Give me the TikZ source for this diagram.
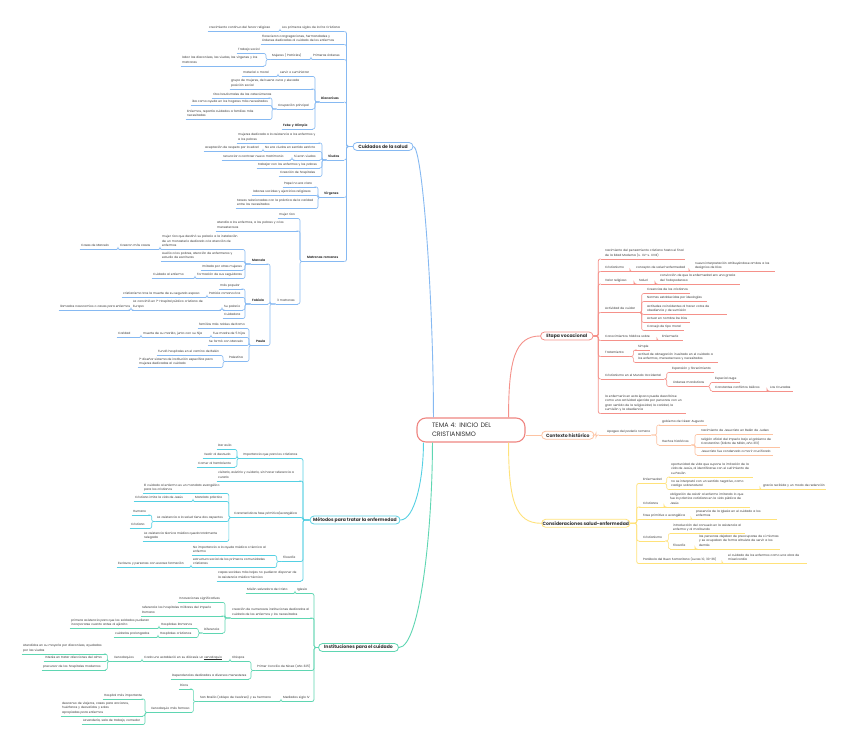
\documentclass[tikz,border=0pt]{standalone}
\usepackage{fontspec}
\setmainfont{Poppins}
\usetikzlibrary{calc}
\definecolor{txt}{HTML}{333333}
\definecolor{cB}{HTML}{86B9F2}
\definecolor{cC}{HTML}{55D0E3}
\definecolor{cG}{HTML}{5FD6B2}
\definecolor{cR}{HTML}{F5918A}
\definecolor{cO}{HTML}{FDC3A2}
\definecolor{cY}{HTML}{FFE27A}
\definecolor{cT}{HTML}{EF8682}
\newcommand\ulx[1]{\setbox0\hbox{#1}\rlap{\rule[-0.55pt]{\wd0}{0.22pt}}#1}
\tikzset{
  leaf/.style={inner xsep=0pt, inner ysep=1.2pt, text=txt, font=\fontsize{3}{4.4}\selectfont},
  bf/.style={font=\fontsize{3.1}{4.4}\selectfont\bfseries},
  ul/.style={draw=\brc, line width=0.6pt},
  cn/.style={draw=\brc, line width=0.6pt, rounded corners=2pt},
  mainnode/.style={draw=#1, fill=white, line width=0.8pt, rounded corners=4pt, minimum height=8pt,
    inner sep=0pt, text=txt, font=\fontsize{4.6}{5.5}\selectfont\bfseries},
  tline/.style={draw=#1, line width=0.9pt}
}
\newcommand\ndl[6][]{%
  \pgfmathsetmacro\ndw{#4-#3+1.5}%
  \node[leaf,#1,text width=\ndw pt,anchor=south west] (#2) at ({#3-1.5},#5)
    {\hspace*{1.5pt}\begin{tabular}[b]{@{}l@{}}#6\end{tabular}};
  \draw[ul] (#2.south west) -- (#2.south east);}
\newcommand\ndr[7][]{%
  \pgfmathsetmacro\ndw{#5-#3}\pgfmathsetmacro\ndi{#4-#3}%
  \node[leaf,#1,text width=\ndw pt,anchor=south west] (#2) at (#3,#6)
    {\hspace*{\ndi pt}\begin{tabular}[b]{@{}l@{}}#7\end{tabular}};
  \draw[ul] (#2.south west) -- (#2.south east);}
\newcommand\conL[3]{\draw[cn] let \p1=(#1.south west) in (\p1) -- (#3pt,\y1) |- (#2.south east);}
\newcommand\conR[3]{\draw[cn] let \p1=(#1.south east) in (\p1) -- (#3pt,\y1) |- (#2.south west);}
\newcommand\conLm[3]{\draw[cn,line width=0.75pt] let \p1=(#1.west) in (\p1) -- (#3pt,\y1) |- (#2.south east);}
\newcommand\conRm[3]{\draw[cn,line width=0.75pt] let \p1=(#1.east) in (\p1) -- (#3pt,\y1) |- (#2.south west);}
\begin{document}
\begin{tikzpicture}[x=1pt,y=-1pt]
\useasboundingbox (0,0) rectangle (848,751);
\fill[white] (0,0) rectangle (848,751);

% ---------- central and main nodes
\node[draw=cT, fill=white, line width=1.1pt, rounded corners=9pt, minimum width=108pt, minimum height=24pt,
  text width=78pt, inner xsep=15pt, align=left, text=txt, font=\fontsize{6.4}{9}\selectfont]
  (T) at (471,430) {TEMA 4: INICIO DEL\\CRISTIANISMO};
\node[mainnode=cB, minimum width=60pt] (C) at (383,146.5) {Cuidados de la salud};
\node[mainnode=cC, minimum width=90pt] (M) at (355,520) {Métodos para tratar la enfermedad};
\node[mainnode=cG, minimum width=80pt] (I) at (358.5,647.5) {Instituciones para el cuidado};
\node[mainnode=cR, minimum width=52.5pt] (E) at (566.8,336) {Etapa vocacional};
\node[mainnode=cO, minimum width=52.3pt] (K) at (567.8,435.2) {Contexto histórico};
\node[mainnode=cY, minimum width=88.3pt] (S) at (585.8,523.3) {Consideraciones salud-enfermedad};

\draw[tline=cB] (C.east) .. controls +(9,0) and +(0,-118) .. ([xshift=17pt]T.north west);
\draw[tline=cC] (M.east) .. controls +(14,0) and +(0,38) .. ([xshift=7pt]T.south west);
\draw[tline=cG] (I.east) .. controls +(21,0) and +(0,88) .. ([xshift=16pt]T.south west);
\draw[tline=cR] ([xshift=-17pt]T.north east) .. controls +(0,-58) and +(-25,0) .. (E.west);
\draw[tline=cO] (T.east |- K.west) -- (K.west);
\draw[tline=cY] ([xshift=-17pt]T.south east) .. controls +(0,58) and +(-26,0) .. (S.west);

% ---------- Cuidados de la salud
\def\brc{cB}
\ndl{c1}{282}{344}{31.5}{Los primeros siglos de la Era Cristiana}
\ndl{c1a}{209}{279}{31.5}{crecimiento continuo del fervor religioso}
\ndl{c2}{262}{344}{44.5}{Florecieron congregaciones, hermandades y\\órdenes dedicadas al cuidado de los enfermos}
\ndl{c3}{313}{344}{59.5}{Primeras órdenes}
\ndl{c3a}{272}{310}{59.5}{Mujeres ( Patricias)}
\ndl{c3a1}{238}{264}{53.5}{Trabajo social}
\ndl{c3a2}{182}{264}{66}{labor las diaconisas, las viudas, las vírgenes y las\\matronas}
\ndl[bf]{c4}{321}{344}{102}{Diaconisas}
\ndl{c4a}{280}{313}{76.5}{servir o suministrar}
\ndl{c4a1}{243}{277}{76.5}{material o moral}
\ndl{c4b}{231}{313}{89}{grupo de mujeres, de buena cuna y elevada\\posición social}
\ndl{c4c}{278}{313}{109}{Ocupación principal}
\ndl{c4c1}{213}{270}{98}{ritos bautismales de las catecúmenas}
\ndl{c4c2}{192}{270}{105.5}{iba como ayuda en los hogares más necesitados}
\ndl{c4c3}{187}{270}{119.5}{Enfermos, repartía cuidados a familias más\\necesitadas}
\ndl[bf]{c4d}{283}{313}{129}{Febe y Olimpia}
\ndl[bf]{c5}{328}{344}{160}{Viudas}
\ndl{c5a}{238}{320}{143}{mujeres dedicada a la asistencia a los enfermos y\\a los pobres}
\ndl{c5b}{265}{320}{151.5}{No era viudas en sentido estricto}
\ndl{c5b1}{205}{262}{151.5}{aceptación de respeto por la edad}
\ndl{c5c}{294}{320}{160}{Si eran viudas}
\ndl{c5c1}{223}{291}{160}{renunciar a contraer nuevo matrimonio}
\ndl{c5d}{258}{320}{168}{trabajar con los enfermos y los pobres}
\ndl{c5e}{280}{320}{176.5}{Creación de hospitales}
\ndl[bf]{c6}{324}{344}{197.5}{Vírgenes}
\ndl{c6a}{284}{316}{187}{Papel no era claro}
\ndl{c6b}{253}{316}{195.5}{labores sociales y ejercicios religiosos}
\ndl{c6c}{237}{316}{208.5}{tareas relacionadas con la práctica de la caridad\\entre los necesitados}
\ndl[bf]{c7}{307}{344}{261.5}{Matronas romanas}
\ndl{c7a}{279}{298}{218.5}{mujer rica}
\ndl{c7b}{217}{298}{231}{atendía a los enfermos, a los pobres y a los\\menesterosos}
\ndl{c7c}{277}{298}{304}{3 matronas}
\ndl[bf]{ma}{252}{268}{264}{Marcela}
\ndl{ma1}{162}{243}{249.5}{mujer rica que destinó su palacio a la instalación\\de un monasterio dedicado a la atención de\\enfermos}
\ndl{ma1a}{120}{159}{249.5}{Crearon más casas}
\ndl{ma1b}{81}{117}{249.5}{Casas de Marcela}
\ndl{ma2}{162}{243}{261.5}{Auxilio a los pobres, atención de enfermeros y\\estudio de escrituras}
\ndl{ma3}{202}{243}{270}{Imitada por otras mujeres}
\ndl{ma4}{197}{243}{278.5}{Formación de sus seguidoras}
\ndl{ma4a}{153}{194}{278.5}{Cuidado al enfermo}
\ndl[bf]{fa}{252}{268}{304}{Fabiola}
\ndl{fa1}{220}{243}{289}{más popular}
\ndl{fa2}{209}{243}{297.5}{Patricia romana rica}
\ndl{fa2a}{123}{206}{297.5}{cristianismo tras la muerte de su segundo esposo}
\ndl{fa3}{224}{243}{310}{Su palacio}
\ndl{fa3a}{133}{221}{310}{La convirtió en 1º Hospital público cristiano de\\Europa}
\ndl{fa3b}{60}{130}{310}{llamados nosocomios o casas para enfermos}
\ndl{fa4}{224}{243}{318.5}{Cuidadora}
\ndl[bf]{pa}{256}{268}{345.5}{Paula}
\ndl{pa1}{199}{247}{328.5}{familias más nobles de Roma}
\ndl{pa2}{213}{247}{337.5}{Fue madre de 5 hijos}
\ndl{pa2a}{143}{210}{337.5}{muerte de su marido, junto con su hija}
\ndl{pa2b}{118}{140}{337.5}{Caridad}
\ndl{pa3}{209}{247}{345.5}{Se formó con Marcela}
\ndl{pa4}{229}{247}{361.5}{Palestina}
\ndl{pa4a}{158}{221}{355.5}{Fundó hospitales en el camino de Belén}
\ndl{pa4b}{139}{221}{367.5}{1º diseñar sistema de institución específica para\\mujeres dedicadas al cuidado}

\conLm{C}{c1}{346.5}\conLm{C}{c2}{346.5}\conLm{C}{c3}{346.5}\conLm{C}{c4}{346.5}
\conLm{C}{c5}{346.5}\conLm{C}{c6}{346.5}\conLm{C}{c7}{346.5}
\conL{c1}{c1a}{280}
\conL{c3}{c3a}{311}
\conL{c3a}{c3a1}{266}\conL{c3a}{c3a2}{266}
\conL{c4}{c4a}{315}\conL{c4}{c4b}{315}\conL{c4}{c4c}{315}\conL{c4}{c4d}{315}
\conL{c4a}{c4a1}{278}
\conL{c4c}{c4c1}{272}\conL{c4c}{c4c2}{272}\conL{c4c}{c4c3}{272}
\conL{c5}{c5a}{322}\conL{c5}{c5b}{322}\conL{c5}{c5c}{322}\conL{c5}{c5d}{322}\conL{c5}{c5e}{322}
\conL{c5b}{c5b1}{263}\conL{c5c}{c5c1}{292}
\conL{c6}{c6a}{318}\conL{c6}{c6b}{318}\conL{c6}{c6c}{318}
\conL{c7}{c7a}{300}\conL{c7}{c7b}{300}\conL{c7}{c7c}{300}
\conL{c7c}{ma}{270}\conL{c7c}{fa}{270}\conL{c7c}{pa}{270}
\conL{ma}{ma1}{245}\conL{ma}{ma2}{245}\conL{ma}{ma3}{245}\conL{ma}{ma4}{245}
\conL{ma1}{ma1a}{160}\conL{ma1a}{ma1b}{118}
\conL{ma4}{ma4a}{195}
\conL{fa}{fa1}{245}\conL{fa}{fa2}{245}\conL{fa}{fa3}{245}\conL{fa}{fa4}{245}
\conL{fa2}{fa2a}{207}\conL{fa3}{fa3a}{222}\conL{fa3a}{fa3b}{131}
\conL{pa}{pa1}{249}\conL{pa}{pa2}{249}\conL{pa}{pa3}{249}\conL{pa}{pa4}{249}
\conL{pa2}{pa2a}{211}\conL{pa2a}{pa2b}{141}
\conL{pa4}{pa4a}{223}\conL{pa4}{pa4b}{223}

% ---------- Métodos para tratar la enfermedad
\def\brc{cC}
\ndl{m1}{243}{301}{458.5}{Importancia que para los cristianos}
\ndl{m1a}{218}{235}{449.5}{Dar asilo}
\ndl{m1b}{204}{235}{458.5}{Vestir al desnudo}
\ndl{m1c}{198}{235}{467}{Comer al hambriento}
\ndl{m2}{218}{301}{481}{visitarlo, asistirlo y cuidarlo, sin hacer referencia a\\curarlo}
\ndl{m3}{234}{301}{517.5}{Características fase primitiva/evangélica}
\ndl{m3a}{144}{227}{493.5}{El cuidado al enfermo es un mandato evangélico\\para los cristianos}
\ndl{m3b}{195}{227}{501.5}{Mandato práctico}
\ndl{m3b1}{135}{192}{501.5}{Cristiano imita la vida de Jesús}
\ndl{m3c}{157}{227}{521.5}{La asistencia a la salud tiene dos aspectos}
\ndl{m3c1}{133}{150}{515}{Humano}
\ndl{m3c2}{131}{150}{528.5}{Cristiano}
\ndl{m3d}{144}{227}{541.5}{La asistencia técnica médica queda totalmente\\relegada}
\ndl{m4}{283}{301}{561.5}{Filosofía}
\ndl{m4a}{193}{275}{555.5}{No importancia a la ayuda médica o técnica al\\enfermo}
\ndl{m4b}{193}{275}{567.5}{estructura social de los primeros comunidades\\cristianas}
\ndl{m4b1}{118}{190}{567.5}{Esclavos y personas con escasa formación}
\ndl{m5}{218}{301}{581}{capas sociales más bajas no pudieron disponer de\\la asistencia médico-técnica}

\conLm{M}{m1}{303}\conLm{M}{m2}{303}\conLm{M}{m3}{303}\conLm{M}{m4}{303}\conLm{M}{m5}{303}
\conL{m1}{m1a}{237}\conL{m1}{m1b}{237}\conL{m1}{m1c}{237}
\conL{m3}{m3a}{228.8}\conL{m3}{m3b}{228.8}\conL{m3}{m3c}{228.8}\conL{m3}{m3d}{228.8}
\conL{m3b}{m3b1}{193}
\conL{m3c}{m3c1}{151.7}\conL{m3c}{m3c2}{151.7}
\conL{m4}{m4a}{276.7}\conL{m4}{m4b}{276.7}
\conL{m4b}{m4b1}{191}

% ---------- Instituciones para el cuidado
\def\brc{cG}
\ndl{i1}{297}{312}{593.5}{Iglesia}
\ndl{i1a}{247}{294}{593.5}{Misión salvadora de Cristo}
\ndl{i2}{232}{312}{618}{creación de numerosas instituciones dedicadas al\\cuidado de los enfermos y los necesitados}
\ndl{i2a}{179}{223}{602.5}{Innovaciones significativas}
\ndl{i2b}{142}{223}{616}{referencia los hospitales militares del Imperio\\Romano}
\ndl{i2c}{204}{223}{633}{Diferencia}
\ndl{i2c1}{161}{196.5}{628.5}{Hospitales Romanos}
\ndl{i2c1a}{71}{158}{628.5}{primera asistencia para que los soldados pudieran\\incorporarse cuanto antes al ejército}
\ndl{i2c2}{160}{196.5}{637.5}{Hospitales cristianos}
\ndl{i2c2a}{115}{157}{637.5}{cuidados prolongados}
\ndl{i3}{257}{312}{670.5}{Primer Concilio de Nicea (año 325)}
\ndl{i3a}{232}{249}{661.5}{Obispos}
\ndl{i3a1}{144}{229}{661.5}{Cada uno estableció en su diócesis un \ulx{xenodoquio}}
\ndl{i3a2}{114}{141}{661.5}{Xenodoquios}
\ndl{i3a2a}{23}{105.5}{654}{Atendidos en su mayoría por diaconisas, ayudadas\\por las viudas}
\ndl{i3a2b}{45}{105.5}{661.5}{Interés en tratar afecciones del alma}
\ndl{i3a2c}{43}{105.5}{670}{precursor de los hospitales modernos}
\ndl{i3b}{172}{249}{679}{Dependencias dedicadas a diversos menesteres}
\ndl{i4}{283}{312}{701.5}{Mediados siglo IV}
\ndl{i4a}{200}{280}{701.5}{San Basilio (obispo de Cesárea) y su hermano}
\ndl{i4a1}{180}{191.5}{689}{Ricos}
\ndl{i4a2}{151}{191.5}{712.5}{Xenodoquio más famoso}
\ndl{i4a2a}{104}{143}{699}{Hospital más importante}
\ndl{i4a2b}{62}{143}{716}{descanso de viajeros, casas para ancianos,\\huérfanos y desvalidos y salas\\apropiadas para enfermos}
\ndl{i4a2c}{83}{143}{724.5}{Lavandería, sala de trabajo, comedor}

\conLm{I}{i1}{314}\conLm{I}{i2}{314}\conLm{I}{i3}{314}\conLm{I}{i4}{314}
\conL{i1}{i1a}{295}
\conL{i2}{i2a}{225}\conL{i2}{i2b}{225}\conL{i2}{i2c}{225}
\conL{i2c}{i2c1}{198.3}\conL{i2c}{i2c2}{198.3}
\conL{i2c1}{i2c1a}{159}\conL{i2c2}{i2c2a}{158}
\conL{i3}{i3a}{251}\conL{i3}{i3b}{251}
\conL{i3a}{i3a1}{230}\conL{i3a1}{i3a2}{142}
\conL{i3a2}{i3a2a}{107.3}\conL{i3a2}{i3a2b}{107.3}\conL{i3a2}{i3a2c}{107.3}
\conL{i4}{i4a}{281}
\conL{i4a}{i4a1}{193.3}\conL{i4a}{i4a2}{193.3}
\conL{i4a2}{i4a2a}{145}\conL{i4a2}{i4a2b}{145}\conL{i4a2}{i4a2c}{145}

% ---------- Etapa vocacional
\def\brc{cR}
\ndr{e1}{600.5}{605}{685}{259}{nacimiento del pensamiento cristiano hasta el final\\de la Edad Moderna (s. XV-s. XVIII)}
\ndr{e2}{600.5}{605}{630}{271.5}{Cristianismo}
\ndr{e2a}{630}{636}{689}{271.5}{concepto de salud-enfermedad}
\ndr{e2b}{689}{695}{775}{271.5}{nueva interpretación atribuyéndose ambos a los\\designios de Dios}
\ndr{e3}{600.5}{605}{634}{284}{Valor religioso}
\ndr{e3a}{634}{639}{655}{284}{Salud}
\ndr{e3b}{655}{660}{740}{284}{convicción de que la enfermedad era una gracia\\del Todopoderoso}
\ndr{e4}{600.5}{605}{638}{312.5}{Actividad de cuidar}
\ndr{e4a}{644}{647}{690}{293.5}{Creencias de los cristianos}
\ndr{e4b}{644}{647}{707}{301.5}{Normas establecidas por ideologías}
\ndr{e4c}{644}{647}{727}{314.5}{actitudes coincidentes al hacer votos de\\obediencia y de sumisión}
\ndr{e4d}{644}{647}{690}{322.5}{Actuar en nombre De Dios}
\ndr{e4e}{644}{647}{684}{330.5}{Consejo de tipo moral}
\ndr{e5}{600.5}{605}{657}{340.5}{Conocimientos hábitos sobre}
\ndr{e5a}{657}{662}{683}{340.5}{Enfermería}
\ndr{e6}{600.5}{605}{629}{356.5}{Tratamiento}
\ndr{e6a}{635}{638}{650}{350}{Simple}
\ndr{e6b}{635}{638}{718}{362.5}{actitud de abnegación inusitado en el cuidado a\\los enfermos, menesterosos y necesitados}
\ndr{e7}{600.5}{605}{664}{379}{Cristianismo en el Mundo Occidental}
\ndr{e7a}{668.5}{672}{714}{372.5}{Expansión y florecimiento}
\ndr{e7b}{668.5}{673}{707}{386.5}{órdenes monásticas}
\ndr{e7b1}{712}{715}{740}{382.5}{Especial auge}
\ndr{e7b2}{712}{715}{767}{391}{Constantes conflictos bélicos}
\ndr{e7b2a}{767}{770}{793}{391}{Las Cruzadas}
\ndr{e8}{600.5}{605}{686}{413.5}{la enfermería en esta época puede describirse\\como una actividad ejercida por personas con un\\gran sentido de la religiosidad, la caridad, la\\sumisión y la obediencia}

\conRm{E}{e1}{598.3}\conRm{E}{e2}{598.3}\conRm{E}{e3}{598.3}\conRm{E}{e4}{598.3}
\conRm{E}{e5}{598.3}\conRm{E}{e6}{598.3}\conRm{E}{e7}{598.3}\conRm{E}{e8}{598.3}
\conR{e2}{e2a}{630}\conR{e2a}{e2b}{689}
\conR{e3}{e3a}{634}\conR{e3a}{e3b}{655}
\conR{e4}{e4a}{641.7}\conR{e4}{e4b}{641.7}\conR{e4}{e4c}{641.7}\conR{e4}{e4d}{641.7}\conR{e4}{e4e}{641.7}
\conR{e5}{e5a}{657}
\conR{e6}{e6a}{633.3}\conR{e6}{e6b}{633.3}
\conR{e7}{e7a}{666.7}\conR{e7}{e7b}{666.7}
\conR{e7b}{e7b1}{710}\conR{e7b}{e7b2}{710}
\conR{e7b2}{e7b2a}{767}

% ---------- Contexto histórico
\def\brc{cO}
\ndr{k1}{599}{607}{651}{435}{Apogeo del poderío romano}
\ndr{k1a}{658.5}{662}{707}{425}{gobierno de César Augusto}
\ndr{k1b}{658.5}{662}{691}{445}{Hechos históricos}
\ndr{k1b1}{697}{701}{773}{434.5}{nacimiento de Jesucristo en Belén de Judea}
\ndr{k1b2}{697}{701}{780}{447.5}{religión oficial del Imperio bajo el gobierno de\\Constantino (Edicto de Milán, año 313)}
\ndr{k1b3}{697}{701}{773}{455}{Jesucristo fue condenado a morir crucificado}

\conRm{K}{k1}{596}
\conR{k1}{k1a}{656.7}\conR{k1}{k1b}{656.7}
\conR{k1b}{k1b1}{695}\conR{k1b}{k1b2}{695}\conR{k1b}{k1b3}{695}

% ---------- Consideraciones salud-enfermedad
\def\brc{cY}
\ndr{s1}{638.5}{643}{663.5}{483.5}{Enfermedad}
\ndr{s1a}{668.5}{671}{753}{477}{oportunidad de vida que supone la imitación de la\\vida de Jesús, al identificarse con el sufrimiento de\\su Pasión}
\ndr{s1b}{668.5}{671}{760}{489.5}{no se interpretó con un sentido negativo, como\\castigo sobrenatural}
\ndr{s1b1}{760}{763}{826}{489.5}{gracia recibida y un modo de redención}
\ndr{s2}{638.5}{643}{664}{507}{Cristianos}
\ndr{s2a}{664}{670}{750}{507}{obligación de asistir al enfermo imitando lo que\\fue la práctica cotidiana en la vida pública de\\Jesús}
\ndr{s3}{638.5}{643}{691}{519.5}{Fase primitiva o evangélica}
\ndr{s3a}{691}{696}{777}{519.5}{presencia de la Iglesia en el cuidado a los\\enfermos}
\ndr{s4}{638.5}{643}{665}{541}{Cristianismo}
\ndr{s4a}{670}{673}{745}{533.5}{introducción del consuelo en la asistencia al\\enfermo y al moribundo}
\ndr{s4b}{670}{673}{695}{549}{Filosofía}
\ndr{s4b1}{695}{699}{780}{549}{las personas dejaban de preocuparse de sí mismas\\y se ocupaban de forma altruista de servir a los\\demás}
\ndr{s5}{638.5}{643}{722}{563.5}{Parábola del Buen Samaritano (Lucas 10, 30-36)}
\ndr{s5a}{722}{728}{807}{563.5}{el cuidado de los enfermos como una obra de\\misericordia}

\conRm{S}{s1}{636.7}\conRm{S}{s2}{636.7}\conRm{S}{s3}{636.7}\conRm{S}{s4}{636.7}\conRm{S}{s5}{636.7}
\conR{s1}{s1a}{666.7}\conR{s1}{s1b}{666.7}
\conR{s1b}{s1b1}{760}
\conR{s2}{s2a}{664}
\conR{s3}{s3a}{691}
\conR{s4}{s4a}{668.3}\conR{s4}{s4b}{668.3}
\conR{s4b}{s4b1}{695}
\conR{s5}{s5a}{722}
\end{tikzpicture}
\end{document}
